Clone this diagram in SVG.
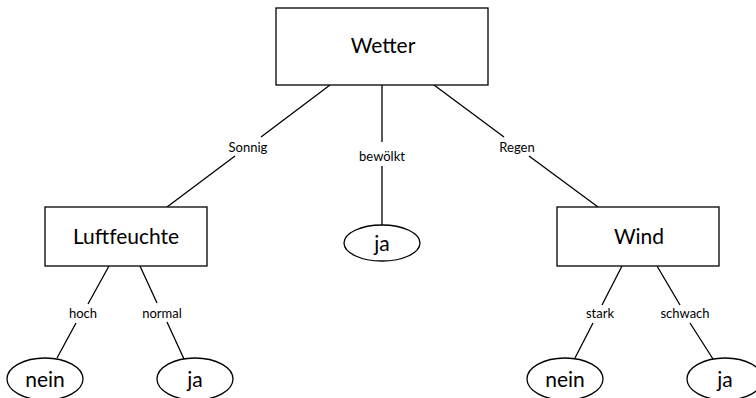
<svg xmlns="http://www.w3.org/2000/svg" width="756" height="398" viewBox="0 0 756 398">
<style>
.box{fill:#fff;stroke:#000;stroke-width:1.3}
.leaf{fill:#fff;stroke:#000;stroke-width:1.3}
.edge{stroke:#000;stroke-width:1.3;fill:none}
.t{font-family:Lato,"Liberation Sans",sans-serif;font-size:21px;fill:#000;text-anchor:middle}
.l{font-family:Lato,"Liberation Sans",sans-serif;font-size:13px;fill:#000;text-anchor:middle}
</style>
<rect width="756" height="398" fill="#fff"/>
<g id="connectors">
<path class="edge" d="M330,85L261,137M235,156L167,207"/>
<path class="edge" d="M382,85L382,142M382,166L382,225"/>
<path class="edge" d="M434,85L504,137M529,156L598,207"/>
<path class="edge" d="M109,266L88,304M76,323L57,358"/>
<path class="edge" d="M140,266L157,303M167,322L184,359"/>
<path class="edge" d="M622,266L602,305M593,323L575,358"/>
<path class="edge" d="M657,266L680,305M690,323L713,359"/>
<text class="l" x="248" y="152">Sonnig</text>
<text class="l" x="382" y="161">bewölkt</text>
<text class="l" x="517" y="152">Regen</text>
<text class="l" x="83" y="318">hoch</text>
<text class="l" x="162" y="318">normal</text>
<text class="l" x="600" y="318">stark</text>
<text class="l" x="685" y="318">schwach</text>
</g>
<g id="wetter"><rect class="box" x="276" y="8" width="212" height="77"/><text class="t" x="383" y="53">Wetter</text></g>
<g id="luftfeuchte"><rect class="box" x="45" y="207" width="162" height="59"/><text class="t" x="126" y="244">Luftfeuchte</text></g>
<g id="wind"><rect class="box" x="557" y="207" width="162" height="59"/><text class="t" x="639" y="244">Wind</text></g>
<g id="ja-mid"><ellipse class="leaf" cx="382" cy="243" rx="38" ry="18"/><text class="t" x="382" y="251">ja</text></g>
<g id="nein-left"><ellipse class="leaf" cx="45" cy="379" rx="38" ry="21"/><text class="t" x="45" y="387">nein</text></g>
<g id="ja-left"><ellipse class="leaf" cx="195" cy="379" rx="38" ry="21"/><text class="t" x="195" y="387">ja</text></g>
<g id="nein-right"><ellipse class="leaf" cx="565" cy="379" rx="38" ry="21"/><text class="t" x="565" y="387">nein</text></g>
<g id="ja-right"><ellipse class="leaf" cx="725" cy="379" rx="38" ry="21"/><text class="t" x="725" y="387">ja</text></g>
</svg>
